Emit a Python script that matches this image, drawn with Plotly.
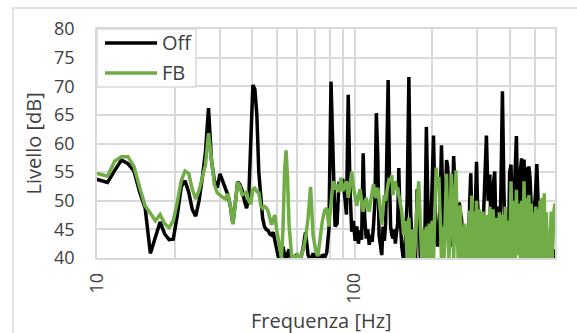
import numpy as np
import plotly.graph_objects as go

# ---- frequency bins (Hz) ----
F_LOW = np.arange(13, 82) * 0.7324          # FFT bins up to ~60 Hz
F_MID = np.arange(60, 150, 1.5)
F_HIGH = np.arange(150, 300, 2.5)
F_TOP = np.arange(300, 601, 5)
FREQ = np.concatenate([F_LOW, F_MID, F_HIGH, F_TOP])

# ---- "Off" series (dB) ----
OFF_LOW = [54.0, 53.6, 53.2, 55.3, 57.1, 56.5, 55.2, 51.5, 48.7, 40.8,
           43.8, 46.3, 44.2, 43.2, 43.3, 47.5, 52.5, 53.5, 51.5, 48.5,
           47.3, 50.0, 54.0, 58.5, 66.2, 57.0, 53.5, 52.3, 54.7, 53.5,
           52.4, 51.0, 49.0, 46.0, 49.5, 53.3, 52.8, 51.8, 50.0, 48.7,
           50.5, 62.0, 70.2, 69.5, 65.0, 55.0, 50.0, 47.0, 45.5, 45.0,
           44.8, 44.2, 44.0, 44.5, 43.0, 41.5, 40.3, 39.5, 40.5, 42.0,
           40.5, 39.5, 40.8, 41.5, 40.2, 39.5, 40.3, 39.8, 40.5]
OFF_MID = [40.5, 39.5, 41.5, 44.5, 40.5, 39.5, 40.8, 39.6, 40.5, 39.5,
           40.6, 40.0, 41.0, 45.0, 70.8, 58.0, 45.5, 46.0, 53.3, 52.5,
           53.8, 51.0, 47.6, 68.5, 52.0, 44.6, 46.5, 43.0, 45.5, 42.5,
           44.8, 43.2, 58.3, 47.0, 43.4, 45.0, 42.3, 44.0, 42.8, 45.8,
           50.0, 65.3, 58.0, 44.0, 41.5, 40.5, 45.5, 43.0, 46.0, 58.0,
           71.1, 55.0, 45.5, 44.0, 43.4, 45.0, 42.5, 44.5, 46.0, 55.7]
OFF_HIGH = [48.0, 42.0, 39.5, 43.0, 50.0, 71.6, 48.0, 42.5, 40.5, 39.8,
            52.0, 50.0, 40.0, 41.5, 43.5, 44.0, 62.9, 50.0, 43.0, 44.0,
            52.0, 61.4, 50.0, 43.4, 42.0, 45.0, 50.0, 59.7, 50.0, 45.0,
            47.0, 57.1, 56.0, 46.0, 43.0, 42.0, 48.0, 57.8, 53.0, 45.0,
            44.0, 47.0, 49.7, 48.0, 47.0, 44.5, 43.4, 41.0, 40.0, 39.5,
            41.5, 44.0, 50.0, 54.8, 48.0, 42.0, 39.8, 44.0, 52.0, 56.8]
OFF_TOP = [50.0, 44.0, 40.0, 44.5, 52.0, 61.4, 50.0, 54.6, 41.0, 52.4,
           55.1, 42.0, 49.0, 40.5, 52.0, 69.1, 52.0, 41.0, 48.0, 40.0,
           55.0, 56.3, 43.0, 49.0, 55.0, 61.3, 48.0, 41.0, 55.0, 57.4,
           44.0, 57.2, 48.0, 55.9, 45.0, 56.0, 54.0, 47.0, 44.0, 46.0,
           48.5, 52.0, 56.4, 50.0, 45.0, 43.4, 42.0, 44.0, 41.5, 43.0,
           40.5, 42.0, 43.0, 43.4, 41.0, 42.0, 40.0, 41.0, 40.0, 41.5,
           40.5]

# ---- "FB" series (dB) ----
FB_LOW = [55.0, 54.6, 54.3, 56.9, 57.7, 57.7, 56.0, 52.3, 49.1, 47.8,
          46.5, 47.6, 46.0, 45.3, 46.5, 49.8, 53.5, 55.2, 54.8, 52.0,
          50.3, 51.8, 54.2, 56.2, 61.8, 57.0, 52.8, 51.4, 50.9, 50.6,
          50.3, 51.2, 49.0, 45.9, 49.5, 53.2, 52.5, 51.0, 51.2, 51.5,
          50.0, 49.4, 52.0, 52.2, 51.6, 51.4, 49.2, 48.7, 49.0, 48.8,
          48.2, 47.0, 45.8, 46.8, 47.5, 45.0, 43.4, 41.5, 40.0, 45.0,
          55.0, 58.8, 54.0, 45.8, 41.5, 39.8, 40.5, 39.5, 40.3]
FB_MID = [40.6, 39.8, 41.2, 43.4, 47.0, 52.4, 44.0, 41.5, 40.3, 43.4,
          46.5, 48.3, 48.7, 45.5, 49.8, 53.4, 52.0, 52.8, 51.5, 54.0,
          51.7, 52.5, 53.4, 50.5, 53.0, 55.1, 52.3, 50.5, 49.1, 50.8,
          52.0, 50.0, 48.1, 49.5, 50.5, 49.0, 48.1, 50.0, 51.5, 52.9,
          51.0, 50.5, 52.3, 49.5, 48.1, 45.8, 48.5, 51.0, 50.0, 52.0,
          53.0, 54.0, 53.5, 54.5, 51.0, 52.5, 53.4, 52.0, 52.3, 51.0]
FB_HIGH = [50.0, 48.1, 44.0, 46.5, 40.0, 47.0, 39.5, 45.0, 39.5, 43.0,
           50.0, 53.4, 46.0, 39.5, 45.0, 39.5, 45.5, 39.5, 46.0, 40.0,
           46.5, 39.5, 48.0, 55.8, 52.0, 54.2, 47.0, 39.5, 45.5, 39.5,
           48.0, 54.7, 45.0, 39.5, 47.0, 54.7, 50.0, 39.5, 48.0, 55.3,
           46.0, 39.5, 45.0, 49.2, 39.5, 45.5, 39.5, 46.0, 39.5, 45.5,
           39.5, 47.0, 48.3, 39.5, 50.9, 40.0, 48.1, 39.5, 47.0, 50.0]
FB_TOP = [39.5, 48.5, 39.5, 48.1, 40.0, 47.5, 39.5, 49.0, 39.5, 48.5,
          40.0, 47.0, 39.5, 48.0, 39.5, 47.5, 39.5, 49.0, 40.0, 46.5,
          39.5, 53.4, 40.0, 50.0, 39.5, 51.9, 40.5, 49.5, 39.5, 50.0,
          40.0, 53.4, 39.5, 50.5, 39.5, 51.0, 40.0, 49.5, 39.5, 48.0,
          40.0, 49.0, 39.5, 48.5, 40.0, 50.0, 39.5, 50.5, 40.0, 51.3,
          39.5, 48.0, 40.0, 43.4, 39.5, 46.0, 48.1, 39.5, 47.0, 48.4,
          49.5]

OFF = OFF_LOW + OFF_MID + OFF_HIGH + OFF_TOP
FB = FB_LOW + FB_MID + FB_HIGH + FB_TOP

X_TICKS = [10, 20, 30, 40, 50, 60, 70, 80, 90, 100, 200, 300, 400, 500, 600]
X_LABELS = ["10", "", "", "", "", "", "", "", "", "100", "", "", "", "", ""]
Y_TICKS = [40, 45, 50, 55, 60, 65, 70, 75, 80]

SERIES_NAMES = ["Off", "FB"]
SERIES_COLORS = ["#000000", "#70AD47"]

GRID = "#D9D9D9"
TEXT = "#404040"
FONT = "Open Sans"
LW = 3.5

fig = go.Figure()
for name, vals, col in zip(SERIES_NAMES, [OFF, FB], SERIES_COLORS):
    fig.add_trace(go.Scatter(x=FREQ, y=vals, mode="lines", name=name,
                             line=dict(color=col, width=LW)))

fig.update_layout(
    width=577, height=333,
    margin=dict(l=97, r=22, t=29, b=75),
    paper_bgcolor="white", plot_bgcolor="white",
    showlegend=False,
    font=dict(family=FONT, color=TEXT, size=18),
)
fig.update_xaxes(
    type="log", range=[1, np.log10(600)],
    tickmode="array", tickvals=X_TICKS, ticktext=X_LABELS,
    tickangle=-90, ticks="", ticklabelstandoff=6,
    tickfont=dict(size=18, color=TEXT, family=FONT),
    showgrid=True, gridcolor=GRID, gridwidth=1.5,
    showline=True, linecolor=GRID, linewidth=1.5, mirror=True,
    zeroline=False,
)
fig.update_yaxes(
    range=[40, 80], tickmode="array", tickvals=Y_TICKS,
    ticks="", ticklabelstandoff=17,
    tickfont=dict(size=18, color=TEXT, family=FONT),
    showgrid=True, gridcolor=GRID, gridwidth=1.5,
    showline=True, linecolor=GRID, linewidth=1.5, mirror=True,
    zeroline=False,
)

# outer chart-area border
fig.add_shape(type="rect", xref="paper", yref="paper",
              x0=-0.1834, x1=1.3, y0=-0.5, y1=1.0917,
              line=dict(color=GRID, width=1.5), fillcolor="rgba(0,0,0,0)",
              layer="above")

# legend box
fig.add_shape(type="rect", xref="paper", yref="paper",
              x0=0.0, x1=0.216, y0=0.7467, y1=1.0,
              line=dict(color=GRID, width=1.5), fillcolor="white", layer="above")
LEG_Y = [0.9389, 0.8079]
for name, col, ly in zip(SERIES_NAMES, SERIES_COLORS, LEG_Y):
    fig.add_shape(type="line", xref="paper", yref="paper",
                  x0=0.0175, x1=0.131, y0=ly, y1=ly,
                  line=dict(color=col, width=LW), layer="above")
    fig.add_annotation(text=name, xref="paper", yref="paper",
                       x=0.1376, y=ly, xanchor="left", yanchor="middle",
                       showarrow=False, font=dict(size=20, color=TEXT, family=FONT))

# axis titles
fig.add_annotation(text="Frequenza [Hz]", xref="paper", yref="paper",
                   x=0.491, y=-0.275, xanchor="center", yanchor="middle",
                   showarrow=False, font=dict(size=20, color=TEXT, family=FONT))
fig.add_annotation(text="Livello [dB]", xref="paper", yref="paper",
                   x=-0.1376, y=0.5, xanchor="center", yanchor="middle",
                   textangle=-90, showarrow=False,
                   font=dict(size=20, color=TEXT, family=FONT))

fig.write_html("out.html")
